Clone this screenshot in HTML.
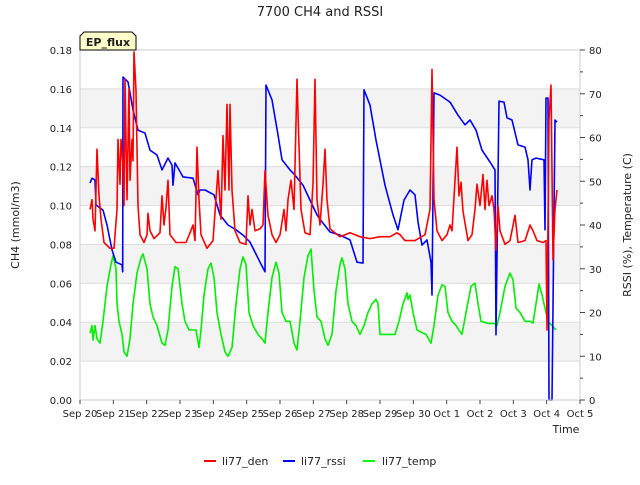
<!DOCTYPE html>
<html><head><meta charset="utf-8"><style>
body{margin:0;background:#fff;font-family:"Liberation Sans",sans-serif}
svg text{font-family:"DejaVu Sans","Liberation Sans",sans-serif;fill:#222}
</style></head><body>
<svg id="chart" width="640" height="480" xmlns="http://www.w3.org/2000/svg">
<text x="320" y="16" text-anchor="middle" font-size="13" fill="#444">7700 CH4 and RSSI</text>
<g id="bands"></g><g id="grid"></g><g id="series"></g><g id="axes"></g>
<g>
<path d="M84,32 L132,32 L136,36 L136,50 L80,50 L80,36 Z" fill="#ffffcc" stroke="#000" stroke-width="1"/>
<text x="108" y="46" text-anchor="middle" font-size="11" font-weight="bold" fill="#8b0000">EP_flux</text></g>
<text transform="translate(19,225) rotate(-90)" text-anchor="middle" font-size="11">CH4 (mmol/m3)</text>
<text transform="translate(631,225) rotate(-90)" text-anchor="middle" font-size="11">RSSI (%), Temperature (C)</text>
<text x="566" y="433" text-anchor="middle" font-size="11">Time</text>
<g>
<g><line x1="204" y1="461" x2="216" y2="461" stroke="#f00" stroke-width="2"/><text x="222" y="465" font-size="11">li77_den</text></g>
<g><line x1="283" y1="461" x2="295" y2="461" stroke="#00f" stroke-width="2"/><text x="301" y="465" font-size="11">li77_rssi</text></g>
<g><line x1="363" y1="461" x2="375" y2="461" stroke="#0f0" stroke-width="2"/><text x="382" y="465" font-size="11">li77_temp</text></g>
</g>
</svg>
<script>
const xTickLabels=["Sep 20","Sep 21","Sep 22","Sep 23","Sep 24","Sep 25","Sep 26","Sep 27","Sep 28","Sep 29","Sep 30","Oct 1","Oct 2","Oct 3","Oct 4","Oct 5"];
const leftTicks=[0,0.02,0.04,0.06,0.08,0.10,0.12,0.14,0.16,0.18];
const rightTicks=[0,10,20,30,40,50,60,70,80];
const denT=[0.30,0.36,0.39,0.45,0.51,0.57,0.63,0.72,0.90,1.02,1.11,1.14,1.20,1.23,1.29,1.32,1.35,1.41,1.47,1.50,1.56,1.59,1.62,1.68,1.74,1.80,1.92,2.01,2.04,2.10,2.22,2.40,2.46,2.52,2.58,2.64,2.70,2.88,3.18,3.30,3.39,3.45,3.51,3.57,3.63,3.81,3.99,4.14,4.23,4.29,4.35,4.41,4.47,4.50,4.56,4.65,4.80,4.98,5.04,5.10,5.16,5.25,5.40,5.49,5.55,5.64,5.76,5.88,6.00,6.12,6.18,6.24,6.33,6.42,6.51,6.57,6.63,6.75,6.90,6.99,7.05,7.11,7.20,7.29,7.35,7.41,7.50,7.80,8.10,8.40,8.70,9.00,9.30,9.51,9.60,9.75,10.05,10.35,10.50,10.56,10.62,10.71,10.86,11.01,11.10,11.16,11.31,11.37,11.43,11.49,11.64,11.76,11.85,11.91,12.00,12.09,12.15,12.21,12.27,12.36,12.42,12.48,12.54,12.60,12.75,12.90,13.05,13.14,13.35,13.50,13.59,13.71,13.89,13.98,14.01,14.07,14.13,14.19,14.25,14.31];
const denV=[0.098,0.103,0.093,0.087,0.129,0.105,0.093,0.081,0.078,0.078,0.098,0.134,0.111,0.134,0.121,0.100,0.165,0.103,0.160,0.113,0.134,0.123,0.179,0.159,0.100,0.085,0.081,0.085,0.096,0.087,0.083,0.086,0.105,0.090,0.099,0.113,0.085,0.081,0.081,0.086,0.090,0.082,0.130,0.103,0.085,0.078,0.082,0.118,0.093,0.136,0.108,0.152,0.108,0.152,0.108,0.087,0.081,0.080,0.105,0.090,0.098,0.087,0.088,0.090,0.118,0.095,0.085,0.081,0.085,0.098,0.087,0.103,0.113,0.098,0.165,0.131,0.098,0.086,0.085,0.111,0.165,0.103,0.090,0.111,0.129,0.103,0.088,0.084,0.086,0.084,0.083,0.084,0.084,0.086,0.085,0.082,0.082,0.085,0.098,0.170,0.103,0.087,0.082,0.085,0.090,0.087,0.130,0.105,0.112,0.097,0.082,0.085,0.098,0.111,0.100,0.116,0.098,0.113,0.100,0.105,0.098,0.077,0.100,0.087,0.080,0.082,0.095,0.081,0.082,0.090,0.087,0.082,0.081,0.082,0.036,0.144,0.162,0.072,0.098,0.108];
const rssiT=[0.30,0.36,0.45,0.48,0.69,0.81,0.96,1.08,1.26,1.28,1.29,1.44,1.59,1.74,1.95,2.10,2.31,2.46,2.64,2.76,2.79,2.85,3.09,3.39,3.54,3.60,3.75,4.02,4.20,4.44,4.68,4.89,5.10,5.25,5.40,5.55,5.58,5.76,5.94,6.06,6.30,6.45,6.69,6.90,7.11,7.26,7.50,7.80,8.10,8.31,8.49,8.52,8.70,8.88,9.15,9.39,9.54,9.72,9.90,10.05,10.14,10.26,10.41,10.53,10.56,10.62,10.80,11.10,11.34,11.55,11.70,11.88,12.06,12.30,12.45,12.48,12.57,12.72,12.81,12.96,13.14,13.35,13.44,13.50,13.56,13.68,13.92,13.95,13.98,14.04,14.07,14.16,14.25,14.31];
const rssiV=[49.6,50.7,50.3,44.6,43.4,40,34.3,31.5,30.9,29.3,73.8,72.7,66.3,61.7,61,57.1,56,52.6,55.3,53.7,49.1,54.2,51,50.7,46.9,48,48,46.9,42.3,40,38.9,37.7,36.1,33.8,31.5,29.3,72,68.6,60.6,54.9,52.6,51.4,49.1,45.7,42.3,40.7,38.4,37.7,36.6,31.5,31.3,70.9,67.4,59.4,49.1,42.3,38.9,45.7,48,46.9,40.7,35.4,36.6,31.5,24,70.2,69.7,68.1,65.1,62.9,64,61.7,57.1,54.4,52.6,14.9,68.3,68.1,64.5,64,58.3,57.8,54.9,48,54.9,55.3,54.9,38.9,69,69,0,0,64,63.5];
const tempT=[0.30,0.36,0.39,0.45,0.51,0.60,0.69,0.81,0.93,0.99,1.08,1.11,1.17,1.26,1.32,1.41,1.50,1.59,1.71,1.83,1.89,2.01,2.10,2.19,2.31,2.46,2.55,2.64,2.76,2.85,2.94,3.06,3.15,3.27,3.39,3.48,3.57,3.63,3.72,3.84,3.93,4.02,4.11,4.23,4.35,4.44,4.56,4.68,4.80,4.89,4.98,5.07,5.19,5.34,5.46,5.55,5.64,5.76,5.88,5.97,6.06,6.18,6.30,6.42,6.51,6.60,6.72,6.84,6.93,7.02,7.11,7.23,7.35,7.44,7.56,7.68,7.80,7.86,7.95,8.04,8.16,8.28,8.40,8.52,8.64,8.76,8.88,8.94,9.00,9.15,9.30,9.45,9.57,9.69,9.81,9.84,9.90,9.99,10.11,10.23,10.38,10.53,10.62,10.74,10.86,10.95,11.04,11.16,11.28,11.46,11.58,11.73,11.85,11.94,12.03,12.24,12.42,12.51,12.60,12.75,12.90,12.99,13.08,13.20,13.35,13.50,13.59,13.68,13.77,13.86,13.95,14.04,14.16,14.28];
const tempV=[15.3,17,13.7,17,14,13,18,26,31,33,30,22,18,15,11,10,14,22,29,32.5,33.4,30,22,19,17,13,12.5,16,26,30.5,30,22,18,16,16,16,12,16,24,30,31.3,28,20,15,11,10,12,22,30,32.7,31,20,17,15,14,13,20,28,31.5,29,20,18,18,13,11.4,18,28,33,34.5,25,19,18,14,12.5,15,25,31,32.5,30,22,18,17,15,17,20,22,23,22,15,15,15,15,18,22,24.5,23,24,20,16,15.5,15,13,17,24,26.3,26,20,18,17,15,20,26,26.7,22,18,17.5,17.5,17,20,26,29,27.5,21,20,18,18,17.6,22,26.5,24,21,18,17,16];

const NS="http://www.w3.org/2000/svg";
const L=80,R=580,T=50,B=400;
const xS=d=>L+d*(R-L)/15;
const yL=v=>B-v*(B-T)/0.18;
const yR=v=>B-v*(B-T)/80;
function mk(tag,at,parent){const e=document.createElementNS(NS,tag);for(const k in at)e.setAttribute(k,at[k]);document.getElementById(parent).appendChild(e);return e;}
// bands
for(let i=1;i<9;i+=2){const b=mk('rect',{x:L,y:yL(leftTicks[i+1]),width:R-L,height:yL(leftTicks[i])-yL(leftTicks[i+1]),fill:'#f3f3f3'},'bands');

}
leftTicks.forEach(v=>{const g=mk('line',{x1:L,x2:R,y1:yL(v),y2:yL(v),stroke:'#ddd','stroke-width':1},'grid');

});
function series(ts,vs,ys,color,name){const p=mk('polyline',{points:ts.map((t,i)=>xS(t).toFixed(1)+','+ys(vs[i]).toFixed(1)).join(' '),fill:'none',stroke:color,'stroke-width':1.6,'stroke-linejoin':'round'},'series');

}
series(tempT,tempV,yR,'#00ee00','li77-temp-line');
series(rssiT,rssiV,yR,'#0000ff','li77-rssi-line');
series(denT,denV,yL,'#ff0000','li77-den-line');
// axes frame
const fr=mk('rect',{x:L,y:T,width:R-L,height:B-T,fill:'none',stroke:'#ccc'},'axes');


leftTicks.forEach(v=>{const t=mk('text',{x:L-8,y:yL(v)+4,'text-anchor':'end','font-size':10},'axes');t.textContent=v.toFixed(2);

});
for(let v=0;v<=80;v+=5){mk('line',{x1:R,x2:R+(v%10?3:5),y1:yR(v),y2:yR(v),stroke:'#444'},'axes');}
rightTicks.forEach(v=>{const t=mk('text',{x:R+9,y:yR(v)+4,'font-size':10},'axes');t.textContent=v;

});
xTickLabels.forEach((s,i)=>{mk('line',{x1:xS(i),x2:xS(i),y1:B,y2:B+4,stroke:'#444'},'axes');
const t=mk('text',{x:xS(i),y:B+17,'text-anchor':'middle','font-size':10},'axes');t.textContent=s;

});
</script>
</body></html>
